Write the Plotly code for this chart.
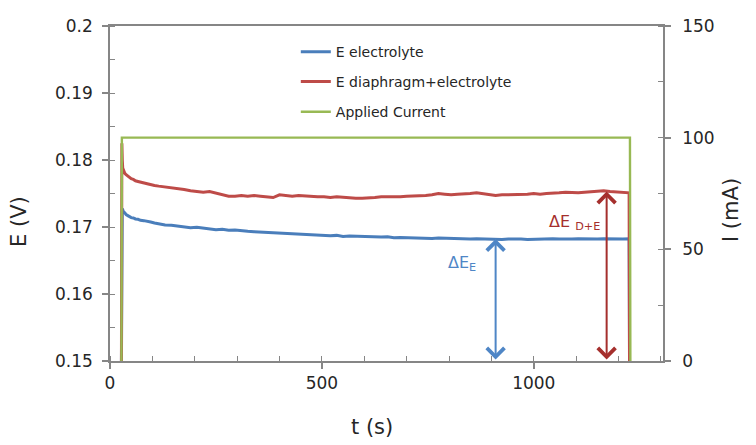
import plotly.graph_objects as go

# ---- data ----
t_s = [27, 28, 29, 30, 32, 35, 38, 42, 46, 50,
       55, 60, 66, 72, 80, 88, 96, 105, 115, 130,
       145, 160, 175, 190, 205, 220, 235, 250, 265, 280,
       295, 310, 325, 340, 355, 370, 385, 400, 415, 430,
       445, 460, 475, 490, 505, 520, 535, 550, 565, 580,
       595, 610, 625, 640, 655, 670, 685, 700, 715, 730,
       745, 760, 775, 790, 805, 820, 835, 850, 865, 880,
       895, 910, 925, 940, 955, 970, 985, 1000, 1015, 1030,
       1045, 1060, 1075, 1090, 1105, 1120, 1135, 1150, 1165, 1180,
       1195, 1210, 1225, 1226]

e_electrolyte = [0.1500, 0.1727, 0.1727, 0.1726, 0.17225, 0.1721, 0.17185, 0.1717, 0.17155, 0.1714,
                 0.17135, 0.1712, 0.17115, 0.1710, 0.17095, 0.1708, 0.17075, 0.1706, 0.17045, 0.1703,
                 0.17025, 0.1701, 0.17005, 0.1699, 0.16995, 0.1698, 0.16975, 0.1696, 0.16965, 0.1695,
                 0.16955, 0.1694, 0.16935, 0.1693, 0.16925, 0.1692, 0.16915, 0.1691, 0.16905, 0.1689,
                 0.16895, 0.1688, 0.16885, 0.1688, 0.16875, 0.1687, 0.16875, 0.1686, 0.16865, 0.1686,
                 0.16865, 0.1685, 0.16855, 0.1685, 0.16855, 0.1684, 0.16845, 0.1684, 0.16845, 0.1684,
                 0.16835, 0.1683, 0.16835, 0.1683, 0.16825, 0.1683, 0.16825, 0.1682, 0.16825, 0.1682,
                 0.16825, 0.1682, 0.16815, 0.1682, 0.16825, 0.1682, 0.16815, 0.1682, 0.16825, 0.1682,
                 0.16825, 0.1682, 0.16815, 0.1682, 0.16825, 0.1682, 0.16815, 0.1682, 0.16825, 0.1682,
                 0.16815, 0.1682, 0.16825, 0.1500]

e_diaphragm = [0.1500, 0.1825, 0.1800, 0.1788, 0.1783, 0.1780, 0.1778, 0.1776, 0.1774, 0.1772,
               0.1771, 0.1769, 0.1768, 0.1767, 0.1766, 0.1765, 0.1764, 0.1762, 0.1761, 0.1760,
               0.1758, 0.1757, 0.1756, 0.1754, 0.1753, 0.1752, 0.1753, 0.1751, 0.1748, 0.1746,
               0.1746, 0.1747, 0.1746, 0.1747, 0.1746, 0.1745, 0.1744, 0.1748, 0.1747, 0.1746,
               0.1747, 0.1746, 0.1746, 0.1745, 0.1745, 0.1744, 0.1745, 0.1744, 0.1744, 0.1743,
               0.1743, 0.1743, 0.1744, 0.1745, 0.1745, 0.1744, 0.1745, 0.1746, 0.1746, 0.1747,
               0.1747, 0.1748, 0.1750, 0.1749, 0.1748, 0.1749, 0.1749, 0.1750, 0.1751, 0.1750,
               0.1748, 0.1747, 0.1748, 0.1748, 0.1749, 0.1749, 0.1749, 0.1750, 0.1749, 0.1750,
               0.1750, 0.1751, 0.1752, 0.1751, 0.1751, 0.1752, 0.1753, 0.1753, 0.1754, 0.1753,
               0.1752, 0.1751, 0.1751, 0.1500]

t_current = [27, 28, 1227, 1228]
current_mA = [0, 100, 100, 0]

# arrows (dE markers)
arrow_e_t = 910
arrow_e_top = 0.1682
arrow_de_t = 1172
arrow_de_top = 0.1753
arrow_bottom = 0.15

x_ticks = [0, 500, 1000]
y_ticks = [0.15, 0.16, 0.17, 0.18, 0.19, 0.2]
y2_ticks = [0, 50, 100, 150]

BLUE = "#4A7EBB"
RED = "#BE4B48"
GREEN = "#98B954"
AXIS = "#868686"
FONT = "DejaVu Sans"
TXT = "#262626"

fig = go.Figure()
fig.add_trace(go.Scatter(x=t_s, y=e_electrolyte, mode="lines", name="E electrolyte",
                         line=dict(color=BLUE, width=3), legend="legend", showlegend=True))
fig.add_trace(go.Scatter(x=t_s, y=e_diaphragm, mode="lines", name="E diaphragm+electrolyte",
                         line=dict(color=RED, width=3), legend="legend2", showlegend=True))
fig.add_trace(go.Scatter(x=t_current, y=current_mA, mode="lines", name="Applied Current",
                         line=dict(color=GREEN, width=2.4), yaxis="y2", legend="legend3", showlegend=True))

leg_common = dict(x=0.336, xanchor="left", yanchor="middle", bgcolor="rgba(0,0,0,0)",
                  font=dict(family=FONT, size=14, color=TXT), itemwidth=30, visible=True)

fig.update_layout(
    width=756, height=445,
    showlegend=True,
    margin=dict(l=110, r=93, t=26, b=84, autoexpand=False),
    paper_bgcolor="white", plot_bgcolor="white",
    font=dict(family=FONT, size=17, color=TXT),
    legend=dict(y=0.922, **leg_common),
    legend2=dict(y=0.833, **leg_common),
    legend3=dict(y=0.743, **leg_common),
    xaxis=dict(range=[0, 1305], tickvals=x_ticks, ticks="outside", ticklen=6,
               tickcolor=AXIS, tickwidth=1.5, showline=True, linecolor=AXIS, linewidth=1.5,
               mirror=True, showgrid=False, zeroline=False,
               tickfont=dict(family=FONT, size=17, color=TXT),
               minor=dict(dtick=100, ticks="inside", ticklen=5, tickcolor=AXIS, tickwidth=1.2, showgrid=False)),
    yaxis=dict(range=[0.15, 0.2], tickvals=y_ticks, ticktext=["0.15", "0.16", "0.17", "0.18", "0.19", "0.2"],
               ticks="outside", ticklen=6, tickcolor=AXIS, tickwidth=1.5,
               showline=True, linecolor=AXIS, linewidth=1.5, showgrid=False, zeroline=False,
               tickfont=dict(family=FONT, size=17, color=TXT), ticklabelstandoff=6,
               minor=dict(dtick=0.005, ticks="inside", ticklen=5, tickcolor=AXIS, tickwidth=1.2, showgrid=False)),
    yaxis2=dict(range=[0, 150], tickvals=y2_ticks, overlaying="y", side="right",
                ticks="outside", ticklen=6, tickcolor=AXIS, tickwidth=1.5,
                showline=True, linecolor=AXIS, linewidth=1.5, showgrid=False, zeroline=False,
                tickfont=dict(family=FONT, size=17, color=TXT), ticklabelstandoff=8,
                minor=dict(dtick=25, ticks="inside", ticklen=5, tickcolor=AXIS, tickwidth=1.2, showgrid=False)),
)

# arrows
fig.add_annotation(x=arrow_e_t, y=arrow_e_top, ax=arrow_e_t, ay=arrow_bottom,
                   xref="x", yref="y", axref="x", ayref="y", text="", showarrow=True,
                   arrowhead=4, startarrowhead=4, arrowside="end+start", arrowsize=1.7, startarrowsize=1.7,
                   arrowwidth=2, arrowcolor="#4F86C6", standoff=0, startstandoff=0)
fig.add_annotation(x=arrow_de_t, y=arrow_de_top, ax=arrow_de_t, ay=arrow_bottom,
                   xref="x", yref="y", axref="x", ayref="y", text="", showarrow=True,
                   arrowhead=4, startarrowhead=4, arrowside="end+start", arrowsize=1.7, startarrowsize=1.7,
                   arrowwidth=2, arrowcolor="#A52F2D", standoff=0, startstandoff=0)

# labels
fig.add_annotation(x=830, y=0.1645, xref="x", yref="y", showarrow=False,
                   text="ΔE<sub>E</sub>", font=dict(family=FONT, size=16, color="#4F86C6"))
fig.add_annotation(x=1097, y=0.1707, xref="x", yref="y", showarrow=False,
                   text="ΔE <sub>D+E</sub>", font=dict(family=FONT, size=16, color="#A52F2D"))

# axis titles (pixel positions converted to paper coords)
pl, pr, pt, pb = 110, 756 - 93, 26, 445 - 84
def px(x):
    return (x - pl) / (pr - pl)
def py(y):
    return (pb - y) / (pb - pt)

title_common = dict(xref="paper", yref="paper", showarrow=False, xanchor="center", yanchor="middle")
fig.add_annotation(x=px(19), y=py(222), textangle=-90, text="E (V)",
                   font=dict(family=FONT, size=21, color=TXT), **title_common)
fig.add_annotation(x=px(372), y=py(427), text="t (s)",
                   font=dict(family=FONT, size=21, color=TXT), **title_common)
fig.add_annotation(x=px(731), y=py(210), textangle=-90, text="I (mA)",
                   font=dict(family=FONT, size=21, color=TXT), **title_common)

fig.write_html("out.html", config={"displayModeBar": False},
               post_script="document.body.style.margin='0';")
